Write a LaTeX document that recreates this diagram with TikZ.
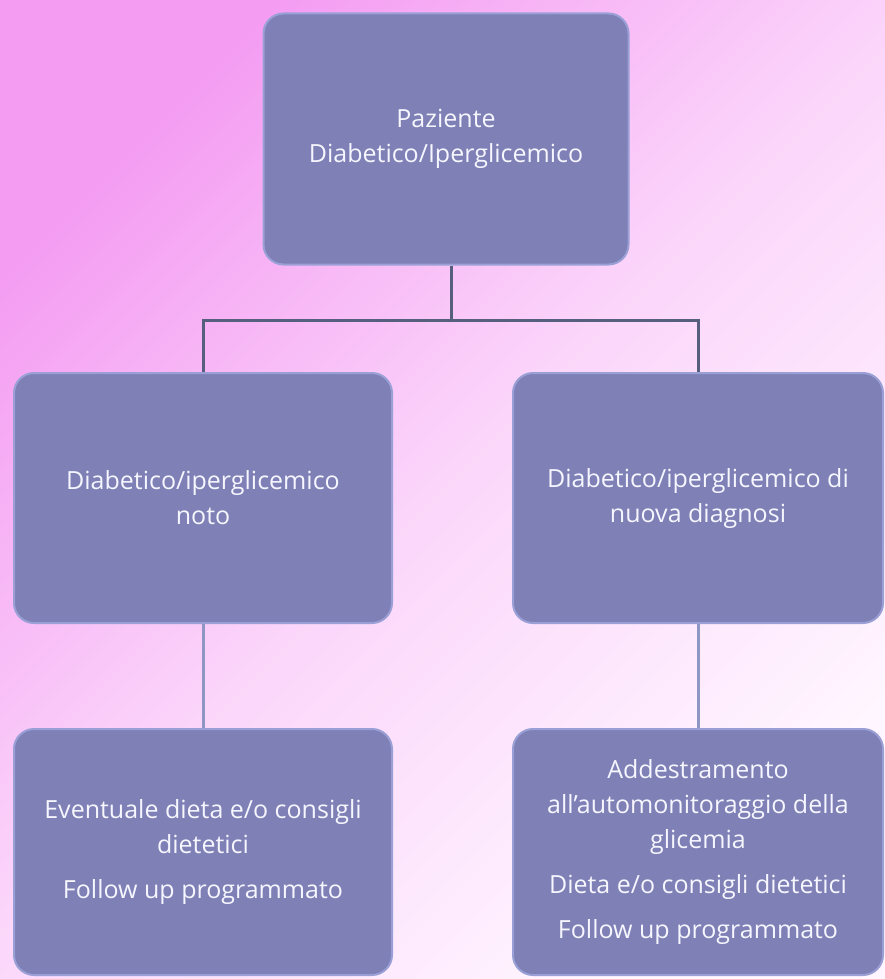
\documentclass[tikz,border=0pt]{standalone}
\usepackage{fontspec}
\setmainfont{Open Sans}
\definecolor{bgA}{HTML}{F49CF2}
\definecolor{bgB}{HTML}{FFF6FF}
\definecolor{boxfill}{HTML}{7E80B6}
\definecolor{boxedge}{HTML}{9AA0D6}
\definecolor{darkline}{HTML}{56607E}
\definecolor{lightline}{HTML}{8E96C4}
\definecolor{txt}{HTML}{F6F6FF}
\begin{document}
\begin{tikzpicture}[x=1pt,y=-1pt,
  card/.style={draw=boxedge, line width=2pt, fill=boxfill, rounded corners=20pt,
    align=center, text=txt, font=\fontsize{25}{35}\selectfont, inner sep=0pt},
  topline/.style={draw=darkline, line width=3pt},
  botline/.style={draw=lightline, line width=3pt}]
\useasboundingbox (0,0) rectangle (885,979);
\shade[shading=axis, top color=bgA, bottom color=bgB, middle color=bgB!65!bgA, shading angle=45] (0,0) rectangle (885,979);
\node[card, minimum width=365pt, minimum height=251pt] (top) at (446,139)
  {Paziente\\Diabetico/Iperglicemico};
\node[card, minimum width=378pt, minimum height=250pt] (lm) at (203,498)
  {Diabetico/iperglicemico\\noto};
\node[card, minimum width=370pt, minimum height=250pt] (rm) at (698,498)
  {Diabetico/iperglicemico di\\nuova diagnosi};
\node[card, minimum width=378pt, minimum height=246pt] (lb) at (203,852)
  {Eventuale dieta e/o consigli\\dietetici\\[10pt]Follow up programmato};
\node[card, minimum width=370pt, minimum height=246pt] (rb) at (698,852)
  {Addestramento\\all'automonitoraggio della\\glicemia\\[10pt]Dieta e/o consigli dietetici\\[10pt]Follow up programmato};
\coordinate (j) at (451,320);
\draw[topline] (top.south -| j) -- (j);
\draw[topline] (lm.north) |- (j) -| (rm.north);
\draw[botline] (lm.south) -- (lb.north);
\draw[botline] (rm.south) -- (rb.north);
\end{tikzpicture}
\end{document}
